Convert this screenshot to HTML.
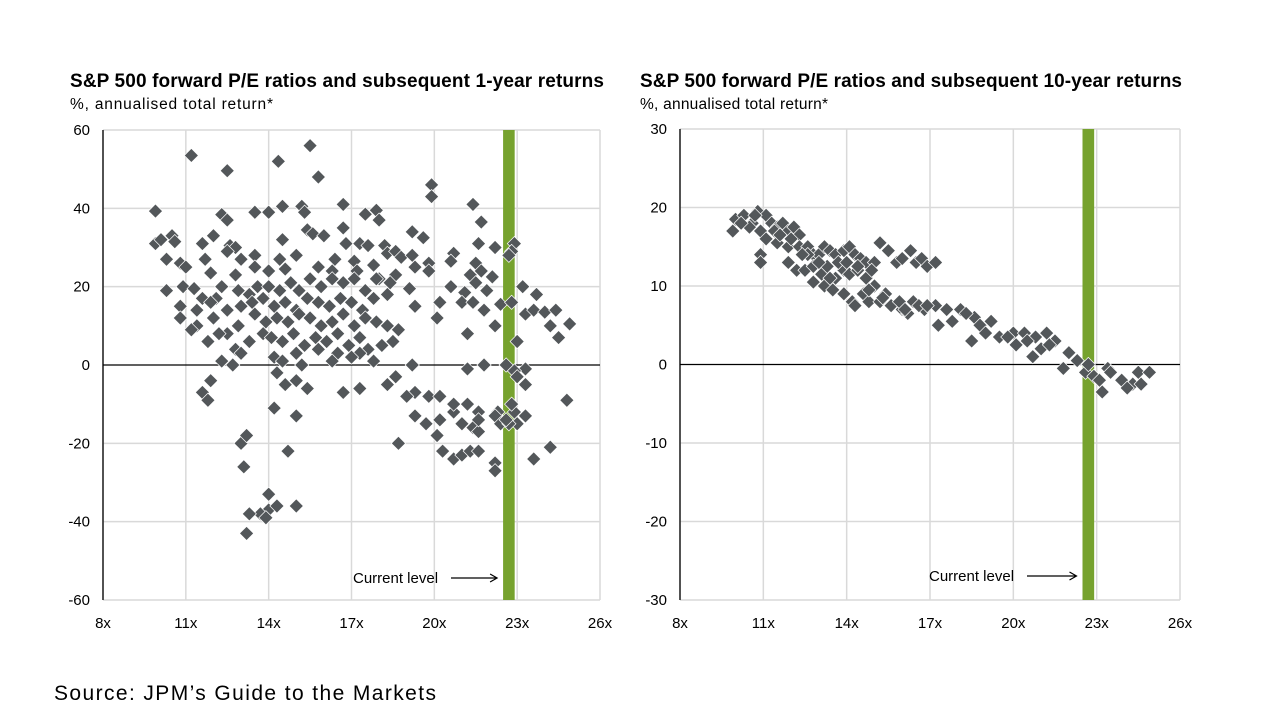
<!DOCTYPE html>
<html><head><meta charset="utf-8"><style>
body{margin:0;background:#fff;width:1271px;height:724px;overflow:hidden;font-family:"Liberation Sans",Arial,sans-serif}
svg{position:absolute;left:0;top:0}
</style></head><body>
<svg id="c" width="1271" height="724">
<text x="70" y="87" font-size="19" font-weight="bold" fill="#000" textLength="534">S&amp;P 500 forward P/E ratios and subsequent 1-year returns</text>
<text x="70" y="109" font-size="15.5" fill="#000" textLength="203">%, annualised total return*</text>
<text x="640" y="87" font-size="19" font-weight="bold" fill="#000" textLength="542">S&amp;P 500 forward P/E ratios and subsequent 10-year returns</text>
<text x="640" y="109" font-size="15.5" fill="#000" textLength="188">%, annualised total return*</text>
<text x="54" y="700" font-size="21" fill="#000" textLength="382">Source: JPM’s Guide to the Markets</text>
</svg>
<script>
const xTicks=[8,11,14,17,20,23,26];
const leftYTicks=[-60,-40,-20,0,20,40,60];
const rightYTicks=[-30,-20,-10,0,10,20,30];
const currentPE=22.7;
const leftPE=[11.2,12.5,14.35,15.5,15.8,9.9,12.3,12.5,14.0,14.5,15.2,15.3,16.7,17.5,17.9,18.0,19.9,19.9,21.4,21.7,22.9,22.8,9.9,10.1,10.5,10.6,11.6,12.0,12.6,12.8,13.5,14.5,15.4,15.6,16.0,16.7,16.8,17.3,17.6,18.2,19.2,19.6,20.7,21.6,22.2,22.7,10.3,10.8,11.7,12.5,13.0,13.5,14.4,15.0,16.4,17.1,17.8,18.3,18.6,18.8,19.2,19.8,20.6,21.5,11.0,11.9,12.8,13.5,14.0,14.6,15.8,16.3,17.2,18.0,18.6,19.3,19.8,21.3,21.7,22.1,10.3,10.9,11.3,11.6,12.1,12.3,12.9,13.3,13.6,14.0,14.4,14.8,15.1,15.5,15.9,16.3,16.7,17.1,17.5,17.9,18.4,19.1,20.6,21.1,21.5,21.9,23.2,23.7,10.8,11.4,11.9,12.5,13.0,13.4,13.8,14.2,14.6,15.0,15.4,15.8,16.2,16.6,17.0,17.4,17.8,18.3,19.3,20.2,21.0,21.4,21.8,22.4,22.8,23.3,23.6,24.0,24.4,10.8,11.4,12.0,12.5,12.9,13.5,13.9,14.3,14.7,15.1,15.5,15.9,16.3,16.7,17.1,17.5,17.9,18.3,18.7,20.1,21.2,22.2,23.0,24.2,24.5,24.9,11.2,11.8,12.2,12.8,13.3,13.8,14.1,14.5,14.9,15.3,15.7,16.1,16.5,16.9,17.3,17.6,18.1,18.5,13.0,14.2,15.0,15.8,16.5,17.3,12.3,12.7,14.5,15.2,16.3,17.0,17.8,19.2,11.9,11.6,11.8,14.3,15.0,15.4,14.6,16.7,17.3,18.3,18.6,21.2,21.8,22.3,22.9,23.3,23.3,19.3,19.0,19.8,20.2,20.7,20.7,21.2,21.6,22.2,22.4,23.0,23.3,19.3,19.7,20.2,20.1,21.0,21.4,21.6,21.6,20.3,20.7,21.0,21.3,21.6,22.2,22.2,18.7,24.2,23.6,24.8,22.7,14.2,15.0,13.0,13.2,13.1,14.7,14.0,14.0,13.7,14.3,13.3,15.0,13.2,13.9,22.6,22.8,22.9,22.6,23.0];
const leftRet=[53.5,49.6,52,56,48,39.3,38.4,37,39,40.5,40.5,39,41,38.5,39.5,37,46,43,41,36.5,31,29,31,32,33,31.5,31,33,30.5,30,39,32,34.5,33.5,33,35,31,31,30.5,30.5,34,32.5,28.5,31,30,28,27,26,27,29,27,28,27,28,27,26.5,25.5,28.5,29,27.5,28,26,26.5,26,25,23.5,23,25,24,24.5,25,24,24,22,23,25,24,23,24,22.5,19,20,19.5,17,17,20,19,18,20,20,19,21,19,22,20,22,21,22,19,22,21,19.5,20,18.5,21,19,20,18,15,14,16,14,15,16,17,15,16,14,17,16,15,17,16,14,17,18,15,16,16,16,14,15.5,16,13,14,13.5,14,12,10,12,8,10,13,11,12,11,13,12,10,11,13,10,12,11,10,9,12,8,10,6,10,7,10.5,9,6,8,4,6,8,7,6,8,5,7,6,8,5,7,4,5,6,3,2,3,4,3,3,1,0,1,0,1,2,1,0,-4,-7,-9,-2,-4,-6,-5,-7,-6,-5,-3,-1,0,-12,-12,-1,-5,-7,-8,-8,-8,-12,-10,-10,-12,-13,-15,-15,-13,-13,-15,-14,-18,-15,-16,-17,-14,-22,-24,-23,-22,-22,-25,-27,-20,-21,-24,-9,-15,-11,-13,-20,-18,-26,-22,-33,-37,-38,-36,-38,-36,-43,-39,-14,-10,-1.5,0,-3];
const rightPE=[9.9,10.0,10.3,10.6,10.8,10.9,11.1,11.3,11.5,11.7,11.9,12.1,12.3,10.5,11.1,10.9,10.9,11.5,11.9,12.3,12.6,12.8,13.0,13.2,13.4,13.6,13.9,14.1,14.3,14.5,14.7,15.0,15.2,15.5,15.8,16.0,16.3,16.5,16.7,16.9,17.2,11.9,12.2,12.5,12.8,13.1,13.3,13.6,13.9,14.1,14.4,14.7,12.8,13.2,13.5,13.9,14.2,14.6,15.0,14.3,14.8,15.2,15.6,16.0,16.4,16.8,17.2,17.6,18.1,17.3,16.2,17.8,18.6,18.8,19.2,19.0,18.5,19.5,20.0,20.4,20.8,21.2,21.5,21.0,20.1,20.7,22.0,21.8,22.3,22.6,22.9,23.2,23.4,23.5,23.9,24.3,24.5,24.9,24.6,24.1,22.7,10.2,10.7,11.4,12.0,12.6,13.0,13.7,14.0,14.4,14.9,15.4,15.9,16.6,11.6,12.4,13.4,14.8,15.3,16.1,16.9,18.3,19.8,20.5,21.3,23.1];
const rightRet=[17,18.5,19,18,19.5,17,19,18,17.5,18,17,17.5,16.5,17.5,16,14,13,15.5,15,15,15,14,14,15,14.5,14,14.5,15,14,13.5,13,13,15.5,14.5,13,13.5,14.5,13,13.5,12.5,13,13,12,12,12.5,11.5,12.5,11,12,11.5,12,11,10.5,10,9.5,9,8,9,10,7.5,8,8,7.5,7,8,7,7.5,7,7,5,6.5,5.5,6,5,5.5,4,3,3.5,4,4,3.5,4,3,2,2.5,1,1.5,-0.5,0.5,-1,-1.5,-3.5,-0.5,-1,-2,-2.5,-1,-1,-2.5,-3,0,18,19,17,16,14,13,13,13,12.5,12,9,8,7.5,16.5,14,11,9.5,8.5,7,7.5,6.5,3.5,3,2.5,-2];

const NS='http://www.w3.org/2000/svg';
const svg=document.getElementById('c');
function mk(tag,attrs,parent){const e=document.createElementNS(NS,tag);for(const k in attrs)e.setAttribute(k,attrs[k]);(parent||svg).appendChild(e);return e;}

function panel(cfg){
  const sx=v=>cfg.x0+(v-8)/18*(cfg.x1-cfg.x0);
  const sy=v=>cfg.y1-(v-cfg.ymin)/(cfg.ymax-cfg.ymin)*(cfg.y1-cfg.y0);
  const g=mk('g',{});
  
  
  xTicks.forEach(t=>{
    const l=mk('line',{x1:sx(t),x2:sx(t),y1:cfg.y0,y2:cfg.y1,stroke:'#d9d9d9','stroke-width':1.5},g);
    
    
    const tx=mk('text',{x:sx(t),y:cfg.y1+28,'font-size':15,'text-anchor':'middle',fill:'#000'},g);
    tx.textContent=t+'x';
    
    
  });
  cfg.yTicks.forEach(t=>{
    const l=mk('line',{x1:cfg.x0,x2:cfg.x1,y1:sy(t),y2:sy(t),stroke:t===0?'#000':'#d9d9d9','stroke-width':t===0?1.3:1.5},g);
    
    
    const tx=mk('text',{x:cfg.x0-13,y:sy(t)+5,'font-size':15,'text-anchor':'end',fill:'#000'},g);
    tx.textContent=t;
    
    
  });
  const ax=mk('line',{x1:cfg.x0,x2:cfg.x0,y1:cfg.y0,y2:cfg.y1,stroke:'#000','stroke-width':1.3},g);
  
  
  const bw=(cfg.x1-cfg.x0)/18*0.42;
  const bar=mk('rect',{x:sx(currentPE)-bw/2,y:cfg.y0,width:bw,height:cfg.y1-cfg.y0,fill:'#76a22e'},g);
  
  
  cfg.xs.forEach((v,i)=>{
    const cx=sx(v),cy=sy(cfg.ys[i]);
    const p=mk('rect',{x:cx-5,y:cy-5,width:10,height:10,fill:'#53575a',stroke:'#fff','stroke-width':0.7,transform:`rotate(45 ${cx} ${cy})`},g);
    
    
  });
  const tx=mk('text',{x:cfg.lx,y:cfg.ly+5,'font-size':15,fill:'#000'},g);
  tx.textContent='Current level';
  
  
  const ax2=sx(currentPE)-bw/2-6;
  const ar=mk('path',{d:`M${cfg.lx+98} ${cfg.ly}H${ax2}M${ax2-7} ${cfg.ly-4}L${ax2} ${cfg.ly}L${ax2-7} ${cfg.ly+4}`,stroke:'#000',fill:'none','stroke-width':1.2},g);
  
  
}
panel({name:'one-year-panel',x0:103,x1:600,y0:130,y1:600,ymin:-60,ymax:60,yTicks:leftYTicks,xs:leftPE,ys:leftRet,lx:353,ly:578});
panel({name:'ten-year-panel',x0:680,x1:1180,y0:129,y1:600,ymin:-30,ymax:30,yTicks:rightYTicks,xs:rightPE,ys:rightRet,lx:929,ly:576});
</script>
</body></html>
